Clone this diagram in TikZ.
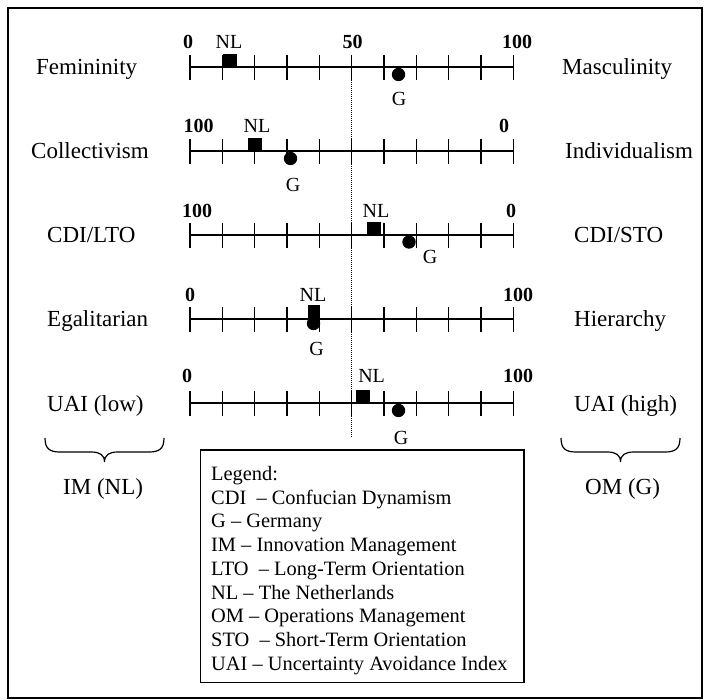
\documentclass[tikz,border=0pt]{standalone}
\usepackage{fontspec}
\setmainfont{Liberation Serif}
\begin{document}
\begin{tikzpicture}[x=1pt,y=-1pt,
  frameline/.style={line width=1.5pt},
  axisline/.style={line width=1.8pt},
  tickmark/.style={line width=1.6pt},
  midline/.style={line width=0.8pt, dash pattern=on 1pt off 1pt},
  bracepath/.style={line width=1.2pt},
  sidelabel/.style={anchor=base west, inner sep=0pt, font=\fontsize{23}{27}\selectfont},
  scalenum/.style={anchor=base, inner sep=0pt, font=\fontsize{20}{24}\selectfont\bfseries},
  countrylabel/.style={anchor=base, inner sep=0pt, font=\fontsize{20}{24}\selectfont},
  nlmark/.style={fill=black, draw=none, inner sep=0pt, minimum width=14pt, minimum height=13pt, anchor=south},
  gmark/.style={circle, fill=black, draw=none, inner sep=0pt, minimum size=13.4pt},
  legendtext/.style={anchor=base west, inner sep=0pt, font=\fontsize{20.4}{24}\selectfont}]

% page and outer frame
\useasboundingbox (0,0) rectangle (704,700);
\draw[frameline] (8,8) rectangle (702,698);

% the five scales with ticks every 10 units
\foreach \r/\y in {1/67,2/151,3/235,4/319,5/403}{
  \coordinate (w\r) at (190,\y);
  \coordinate (e\r) at (513.3,\y);
  \draw[axisline] (w\r) -- (e\r);
  \foreach \i in {0,...,10}
    \draw[tickmark] (190+\i*32.33,\y-12) -- ++(0,25);
}

% midpoint reference line
\coordinate (midtop) at (351.7,80);
\coordinate (midbot) at (351.7,437);
\draw[midline] (midtop) -- (midbot);

% row 1: femininity / masculinity
\node[sidelabel] (l1) at (36,75) {Femininity};
\node[sidelabel] (r1) at (562,75) {Masculinity};
\node[scalenum] (n1a) at (188,49) {0};
\node[scalenum] (n1b) at (352.5,49) {50};
\node[scalenum] (n1c) at (517,49) {100};
\node[countrylabel] (nl1) at (229,49) {NL};
\node[nlmark] (sq1) at (229.7,67) {};
\node[gmark] (c1) at (398.5,74.5) {};
\node[countrylabel] (g1) at (399,106) {G};

% row 2: collectivism / individualism
\node[sidelabel] (l2) at (31,159) {Collectivism};
\node[sidelabel] (r2) at (565,159) {Individualism};
\node[scalenum] (n2a) at (198.5,133) {100};
\node[scalenum] (n2c) at (504,133) {0};
\node[countrylabel] (nl2) at (257,133) {NL};
\node[nlmark] (sq2) at (255,151) {};
\node[gmark] (c2) at (290.5,158.5) {};
\node[countrylabel] (g2) at (293,192) {G};

% row 3: long-term / short-term orientation
\node[sidelabel] (l3) at (47,243) {CDI/LTO};
\node[sidelabel] (r3) at (574,243) {CDI/STO};
\node[scalenum] (n3a) at (197,218) {100};
\node[scalenum] (n3c) at (511,218) {0};
\node[countrylabel] (nl3) at (376,218) {NL};
\node[nlmark] (sq3) at (374,235) {};
\node[gmark] (c3) at (409,242) {};
\node[countrylabel] (g3) at (430,264) {G};

% row 4: egalitarian / hierarchy
\node[sidelabel] (l4) at (47,327) {Egalitarian};
\node[sidelabel] (r4) at (574,327) {Hierarchy};
\node[scalenum] (n4a) at (190,302) {0};
\node[scalenum] (n4c) at (518,302) {100};
\node[countrylabel] (nl4) at (313,302) {NL};
\node[nlmark, minimum width=12pt, minimum height=14pt] (sq4) at (314,319) {};
\node[gmark] (c4) at (313.5,323.5) {};
\node[countrylabel] (g4) at (316.7,356) {G};

% row 5: uncertainty avoidance
\node[sidelabel] (l5) at (47,411) {UAI (low)};
\node[sidelabel] (r5) at (574,411) {UAI (high)};
\node[scalenum] (n5a) at (187,383) {0};
\node[scalenum] (n5c) at (518,383) {100};
\node[countrylabel] (nl5) at (371.6,383) {NL};
\node[nlmark] (sq5) at (362.5,403) {};
\node[gmark] (c5) at (398.5,410.5) {};
\node[countrylabel] (g5) at (401,444) {G};

% braces grouping the two management styles
\draw[bracepath] (45,438) .. controls (45,449) and (50,452) .. (60,452) -- (91,452)
  .. controls (100,452) and (104.5,455) .. (104.5,462)
  .. controls (104.5,455) and (109,452) .. (118,452) -- (149,452)
  .. controls (159,452) and (164,449) .. (164,438);
\draw[bracepath] (561,438) .. controls (561,449) and (566,452) .. (576,452) -- (607,452)
  .. controls (616,452) and (620.5,455) .. (620.5,462)
  .. controls (620.5,455) and (625,452) .. (634,452) -- (665,452)
  .. controls (675,452) and (680,449) .. (680,438);
\node[sidelabel] (im) at (63,494) {IM (NL)};
\node[sidelabel] (om) at (585,494) {OM (G)};

% legend
\draw[frameline] (200.5,450) rectangle (524,682.5);
\node[legendtext] (lg0) at (211,480.5) {Legend:};
\node[legendtext] (lg1) at (211,504.2) {CDI~~– Confucian Dynamism};
\node[legendtext] (lg2) at (211,527.9) {G – Germany};
\node[legendtext] (lg3) at (211,551.6) {IM – Innovation Management};
\node[legendtext] (lg4) at (211,575.3) {LTO~~– Long-Term Orientation};
\node[legendtext] (lg5) at (211,599) {NL – The Netherlands};
\node[legendtext] (lg6) at (211,622.7) {OM – Operations Management};
\node[legendtext] (lg7) at (211,646.4) {STO~~– Short-Term Orientation};
\node[legendtext] (lg8) at (211,670.1) {UAI – Uncertainty Avoidance Index};
\end{tikzpicture}
\end{document}
